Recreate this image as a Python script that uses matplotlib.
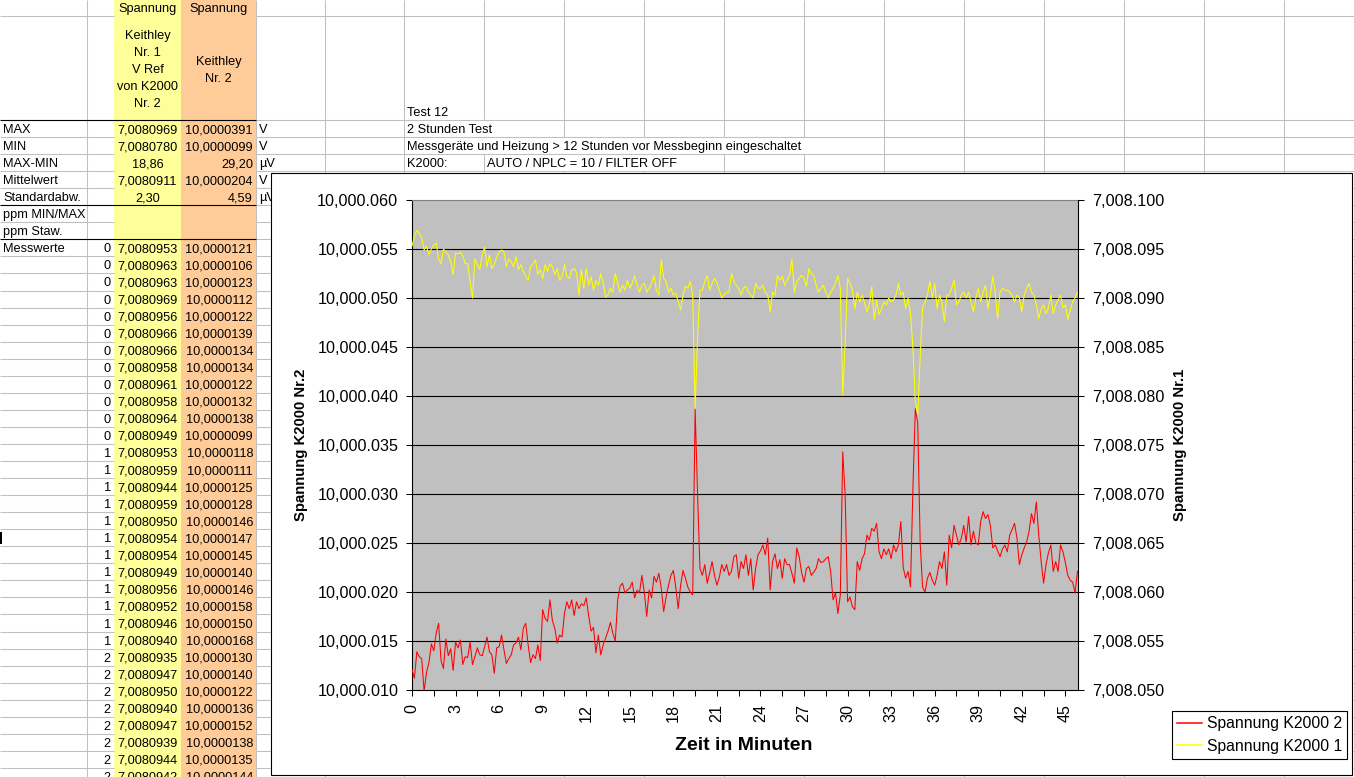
import numpy as np
import matplotlib
matplotlib.use("Agg")
import matplotlib.pyplot as plt
from matplotlib.patches import Rectangle
from matplotlib.collections import LineCollection
from matplotlib.lines import Line2D
from matplotlib.ticker import FuncFormatter

plt.rcParams['font.family'] = ['Liberation Sans', 'DejaVu Sans']

# ---------------- chart data (offset in µV above 10000 mV resp. 7008 mV), 6 samples / minute
samples_per_minute = 6
k2000_2_uV = [
    12.1, 11.2, 13.9, 13.4, 13.2, 9.9,
    11.8, 12.8, 14.7, 14.0, 15.8, 16.8,
    13.0, 12.2, 15.2, 13.5, 14.2, 12.0,
    14.9, 14.3, 15.1, 12.6, 13.4, 13.3,
    14.9, 12.6, 13.4, 14.3, 13.6, 13.5,
    14.4, 15.4, 13.9, 13.6, 11.7, 14.3,
    14.4, 15.6, 14.1, 12.7, 13.2, 13.6,
    14.6, 14.8, 15.4, 14.1, 16.3, 16.8,
    14.6, 12.8, 13.6, 13.2, 14.6, 13.0,
    18.2, 17.3, 17.0, 19.2, 17.1, 16.3,
    14.8, 15.6, 15.4, 17.8, 19.0, 18.3,
    19.2, 17.6, 19.0, 18.3, 18.8, 18.6,
    19.4, 17.6, 16.0, 16.4, 13.8, 15.6,
    13.6, 14.6, 15.3, 16.0, 16.9, 15.8,
    15.0, 19.2, 20.6, 20.9, 19.9, 20.2,
    20.4, 21.0, 19.4, 20.2, 19.9, 21.7,
    20.0, 17.5, 20.2, 19.4, 21.6, 21.0,
    21.9, 20.4, 18.0, 19.5, 20.7, 21.7,
    22.2, 20.5, 18.3, 20.7, 22.2, 21.4,
    20.5, 20.0, 19.7, 38.7, 30.0, 22.4,
    21.7, 22.8, 20.9, 21.9, 23.1, 21.7,
    20.7, 21.5, 22.8, 22.1, 22.8, 21.7,
    22.1, 23.6, 23.8, 21.4, 23.1, 22.4,
    23.8, 21.7, 23.4, 20.2, 22.4, 23.8,
    24.2, 24.8, 23.8, 25.5, 20.2, 23.1,
    23.9, 22.4, 23.3, 21.4, 23.4, 22.8,
    22.8, 21.9, 20.9, 24.5, 23.6, 22.0,
    21.0, 22.4, 22.6, 21.7, 22.0, 22.4,
    23.4, 23.0, 23.1, 23.4, 23.6, 22.1,
    19.2, 19.9, 17.8, 19.7, 34.3, 29.9,
    19.0, 19.5, 18.5, 18.2, 23.1, 22.2,
    23.4, 23.9, 25.8, 25.3, 26.5, 26.2,
    27.0, 24.1, 23.4, 24.4, 23.8, 24.4,
    23.4, 24.8, 24.1, 24.8, 27.2, 22.5,
    21.4, 22.1, 20.5, 30.6, 38.7, 37.2,
    25.0, 20.5, 20.0, 21.4, 22.0, 21.2,
    20.7, 21.7, 23.1, 22.4, 24.1, 20.7,
    25.8, 24.5, 26.8, 25.8, 24.8, 25.5,
    26.8, 25.1, 27.7, 24.8, 26.2, 25.0,
    24.8, 27.2, 28.2, 27.5, 27.9, 26.8,
    24.5, 24.8, 24.2, 23.6, 24.4, 24.8,
    24.1, 25.8, 26.4, 27.0, 25.5, 22.8,
    23.8, 24.5, 25.1, 26.2, 28.0, 27.0,
    29.2, 25.8, 23.1, 20.9, 22.8, 24.0,
    24.8, 22.1, 23.1, 22.1, 24.8, 24.1,
    23.0, 21.7, 21.2, 21.0, 19.9, 22.1,
]
k2000_1_uV = [
    95.3, 96.3, 96.9, 96.6, 96.1, 94.9,
    95.3, 94.4, 95.0, 95.4, 95.6, 94.0,
    93.5, 95.0, 94.7, 94.4, 93.7, 92.4,
    94.6, 94.5, 94.7, 94.3, 93.5, 93.5,
    91.7, 90.0, 94.0, 93.4, 92.9, 94.4,
    95.2, 93.2, 94.4, 93.0, 93.4, 94.2,
    94.7, 94.9, 94.7, 93.2, 94.0, 93.7,
    93.2, 94.2, 92.9, 93.4, 92.7, 92.2,
    91.8, 93.2, 93.5, 93.9, 92.4, 92.9,
    92.0, 93.4, 92.7, 93.5, 93.2, 92.4,
    93.0, 91.8, 92.2, 93.4, 92.2, 92.0,
    92.9, 93.0, 92.6, 90.3, 92.9, 91.0,
    93.0, 91.3, 92.2, 90.8, 91.8, 91.3,
    92.5, 91.5, 90.1, 90.3, 91.0, 90.6,
    92.5, 91.5, 90.6, 91.3, 90.8, 91.8,
    91.0, 91.5, 92.3, 91.3, 90.6, 91.3,
    91.5, 90.6, 91.0, 91.5, 92.3, 90.8,
    90.3, 93.9, 92.0, 91.7, 90.6, 91.0,
    90.3, 90.5, 89.6, 88.8, 90.3, 91.2,
    91.0, 91.7, 90.3, 78.7, 86.0, 90.8,
    90.8, 91.7, 92.3, 90.8, 91.5, 92.0,
    91.5, 90.8, 90.0, 90.3, 90.6, 90.6,
    92.5, 91.7, 91.3, 91.0, 90.3, 91.0,
    91.2, 90.6, 90.3, 90.0, 91.5, 91.0,
    91.0, 91.3, 90.6, 90.3, 88.6, 90.6,
    90.3, 92.3, 91.8, 92.2, 91.3, 91.8,
    92.3, 94.0, 90.6, 91.7, 92.0, 92.3,
    92.0, 91.2, 93.0, 92.5, 92.3, 91.3,
    90.6, 91.0, 91.3, 90.6, 90.0, 90.6,
    91.0, 91.5, 92.3, 91.0, 80.1, 85.5,
    92.0, 91.5, 90.8, 88.9, 90.6, 89.6,
    90.3, 89.5, 88.6, 89.3, 91.2, 87.8,
    89.8, 88.3, 88.9, 89.6, 89.3, 90.0,
    89.6, 89.8, 90.3, 91.5, 90.3, 90.6,
    88.9, 90.0, 88.4, 84.9, 79.4, 78.1,
    84.0, 89.0, 89.6, 90.3, 91.7, 90.0,
    91.5, 88.9, 90.3, 89.5, 87.6, 90.3,
    90.3, 91.0, 91.8, 89.3, 89.6, 90.3,
    90.6, 90.0, 90.6, 89.6, 88.6, 90.0,
    91.0, 89.6, 90.6, 91.3, 88.9, 90.3,
    92.2, 90.6, 87.9, 90.6, 91.0, 90.8,
    90.8, 90.6, 90.3, 89.6, 90.3, 90.0,
    88.6, 90.3, 91.0, 91.5, 90.6, 90.3,
    89.3, 87.9, 88.9, 89.3, 88.4, 89.0,
    90.3, 88.4, 89.3, 89.8, 90.3, 89.0,
    89.3, 87.8, 88.8, 89.6, 90.0, 90.6,
]
series_names = ["Spannung K2000 2", "Spannung K2000 1"]
series_colors = ['#FF0000', '#FFFF00']
left_ticks = [10000.010, 10000.015, 10000.020, 10000.025, 10000.030, 10000.035,
              10000.040, 10000.045, 10000.050, 10000.055, 10000.060]
right_ticks = [7008.050, 7008.055, 7008.060, 7008.065, 7008.070, 7008.075,
               7008.080, 7008.085, 7008.090, 7008.095, 7008.100]
x_major = [0, 3, 6, 9, 12, 15, 18, 21, 24, 27, 30, 33, 36, 39, 42, 45]
x_minor = [1.5, 4.5, 7.5, 10.5, 13.5, 16.5, 19.5, 22.5, 25.5, 28.5, 31.5, 34.5,
           37.5, 40.5, 43.5]

# ---------------- spreadsheet content
head_k1 = ["Keithley", "Nr. 1", "V Ref", "von K2000", "Nr. 2"]
head_k2 = ["Keithley", "Nr. 2"]
stat_labels = ["MAX", "MIN", "MAX-MIN", "Mittelwert", "Standardabw.", "ppm MIN/MAX", "ppm Staw."]
stat_k1 = ["7,0080969", "7,0080780", "18,86", "7,0080911", "2,30", "", ""]
stat_k2 = ["10,0000391", "10,0000099", "29,20", "10,0000204", "4,59", "", ""]
stat_units = ["V", "V", "µV", "V", "µV", "", ""]
table_minute = ["0"] * 12 + ["1"] * 12 + ["2"] * 8
table_k1 = ["7,0080953", "7,0080963", "7,0080963", "7,0080969", "7,0080956", "7,0080966",
            "7,0080966", "7,0080958", "7,0080961", "7,0080958", "7,0080964", "7,0080949",
            "7,0080953", "7,0080959", "7,0080944", "7,0080959", "7,0080950", "7,0080954",
            "7,0080954", "7,0080949", "7,0080956", "7,0080952", "7,0080946", "7,0080940",
            "7,0080935", "7,0080947", "7,0080950", "7,0080940", "7,0080947", "7,0080939",
            "7,0080944", "7,0080942"]
table_k2 = ["10,0000121", "10,0000106", "10,0000123", "10,0000112", "10,0000122", "10,0000139",
            "10,0000134", "10,0000134", "10,0000122", "10,0000132", "10,0000138", "10,0000099",
            "10,0000118", "10,0000111", "10,0000125", "10,0000128", "10,0000146", "10,0000147",
            "10,0000145", "10,0000140", "10,0000146", "10,0000158", "10,0000150", "10,0000168",
            "10,0000130", "10,0000140", "10,0000122", "10,0000136", "10,0000152", "10,0000138",
            "10,0000135", "10,0000144"]
notes = ["Test 12", "2 Stunden Test",
         "Messgeräte und Heizung > 12 Stunden vor Messbeginn eingeschaltet", "K2000:"]
note_k2000 = "AUTO / NPLC = 10 / FILTER OFF"

W, H = 1354, 777
fig = plt.figure(figsize=(W / 100, H / 100), dpi=100)
bg = fig.add_axes([0, 0, 1, 1])
bg.set_xlim(0, W)
bg.set_ylim(H, 0)
bg.axis('off')

GRID = '#C0C0C0'
FS = 9.15
row_h = 17.05
top_rows = [(0, 16), (16, 120)]
n_rows = int((H - 120) / row_h) + 2
rows = top_rows + [(120 + row_h * i, 120 + row_h * (i + 1)) for i in range(n_rows)]
col_lines = [87, 256, 325, 404, 484, 564, 644, 724, 804, 884, 964, 1044, 1124, 1204, 1284]
hidden = {2: {484}, 3: {484, 564, 644, 724, 804}, 4: {564, 644}}

bg.add_patch(Rectangle((114, 0), 67, H, facecolor='#FFFF99', edgecolor='none', zorder=1))
bg.add_patch(Rectangle((181, 0), 75, H, facecolor='#FFCC99', edgecolor='none', zorder=1))

segs = []
for ri, (y0, y1) in enumerate(rows):
    for x in col_lines:
        if x not in hidden.get(ri, set()):
            segs.append([(x, y0), (x, y1)])
hsegs, bsegs = [], []
for ri, (y0, y1) in enumerate(rows):
    if ri == 0:
        continue
    y = y0
    if ri == 2 or (ri - 2) in (5, 7):
        bsegs.append([(0, y), (256, y)])
        hsegs.append([(256, y), (W, y)])
    else:
        hsegs.append([(0, y), (114, y)])
        hsegs.append([(256, y), (W, y)])
bg.add_collection(LineCollection(segs + hsegs, colors=GRID, linewidths=0.75, zorder=2))
bg.add_collection(LineCollection(bsegs, colors='black', linewidths=0.8, zorder=2.5))
bg.add_patch(Rectangle((0, 532), 2, 12, facecolor='black', edgecolor='none', zorder=2.6))

def cell(x, y, s, ha='left', **kw):
    bg.text(x, y, s, ha=ha, va='baseline', fontsize=FS, zorder=3, **kw)

cell(147.5, 12, "Spannung", ha='center')
cell(218.5, 12, "Spannung", ha='center')
for i, s in enumerate(head_k1):
    cell(147.5, 39 + 17 * i, s, ha='center')
for i, s in enumerate(head_k2):
    cell(218.5, 65.2 + 16.6 * i, s, ha='center')

for i in range(len(stat_labels)):
    yb = 120 + row_h * (i + 1) - 4
    cell(3, yb, stat_labels[i])
    cell(147.5, yb, stat_k1[i], ha='center')
    cell(253, yb, stat_k2[i], ha='right')
    cell(259, yb, stat_units[i])

for j in range(len(table_k1)):
    yb = 120 + row_h * (j + 8) - 4
    if j == 0:
        cell(3, yb, "Messwerte")
    cell(111, yb, table_minute[j], ha='right')
    cell(147.5, yb, table_k1[j], ha='center')
    cell(253, yb, table_k2[j], ha='right')

note_y = [116, 120 + row_h - 4, 120 + 2 * row_h - 4, 120 + 3 * row_h - 4]
for s, yb in zip(notes, note_y):
    cell(407, yb, s)
cell(487, note_y[3], note_k2000)

# ---------------- chart area
bg.add_patch(Rectangle((270.5, 172.5), 1081, 602, facecolor='white', edgecolor='black',
                       linewidth=0.8, zorder=10))
bg.text(301, 445, "Spannung K2000 Nr.2", rotation=90, ha='center', va='center',
        fontsize=10.7, fontweight='bold', zorder=11)
bg.text(1180, 445, "Spannung K2000 Nr.1", rotation=90, ha='center', va='center',
        fontsize=10.7, fontweight='bold', zorder=11)
bg.text(744, 745, "Zeit in Minuten", ha='center', va='center',
        fontsize=14, fontweight='bold', zorder=11)

ax = fig.add_axes([412 / W, 1 - 690 / H, (1078 - 412) / W, 490 / H])
ax.set_facecolor('#C0C0C0')
ax2 = ax.twinx()

t = np.arange(len(k2000_2_uV)) / samples_per_minute
red_mV = 10000 + np.array(k2000_2_uV) / 1000.0
yel_mV = 7008 + np.array(k2000_1_uV) / 1000.0
ax.plot(t, red_mV, color=series_colors[0], lw=0.75, zorder=3)
ax2.plot(t, yel_mV, color=series_colors[1], lw=0.75, zorder=3)

ax.set_xlim(0, 45.87)
ax.set_ylim(left_ticks[0], left_ticks[-1])
ax2.set_ylim(right_ticks[0], right_ticks[-1])
for v in left_ticks[1:-1]:
    ax.axhline(v, color='black', lw=0.8, zorder=1)

fmt = FuncFormatter(lambda v, p: f"{v:,.3f}")
ax.set_yticks(left_ticks)
ax.yaxis.set_major_formatter(fmt)
ax2.set_yticks(right_ticks)
ax2.yaxis.set_major_formatter(fmt)
ax.set_xticks(x_major)
ax.set_xticklabels([str(v) for v in x_major], rotation=90)
ax.set_xticks(x_minor, minor=True)

ax.tick_params(axis='x', which='both', direction='out', length=4.3, width=0.75,
               pad=6.0, labelsize=11.6)
ax.tick_params(axis='y', direction='out', length=4.3, width=0.75, pad=5.6, labelsize=11.6)
ax2.tick_params(axis='y', direction='out', length=4.0, width=0.75, pad=6.2, labelsize=11.6)

ax.spines['top'].set_color('#808080')
ax.spines['right'].set_visible(False)
for s in ('left', 'bottom', 'top'):
    ax.spines[s].set_linewidth(0.8)
for s in ('left', 'top', 'bottom'):
    ax2.spines[s].set_visible(False)
ax2.spines['right'].set_linewidth(0.8)

handles = [Line2D([], [], color=c, lw=1.1) for c in series_colors]
leg = fig.legend(handles, series_names, loc='upper left',
                 bbox_to_anchor=(1172 / W, 1 - 711 / H), bbox_transform=fig.transFigure,
                 frameon=True, fancybox=False, edgecolor='black', framealpha=1,
                 fontsize=11.3, borderaxespad=0, borderpad=0.35, handlelength=1.55,
                 handletextpad=0.3, labelspacing=0.45)
leg.get_frame().set_linewidth(0.8)
leg.set_zorder(20)

fig.savefig("out.png", dpi=100)
